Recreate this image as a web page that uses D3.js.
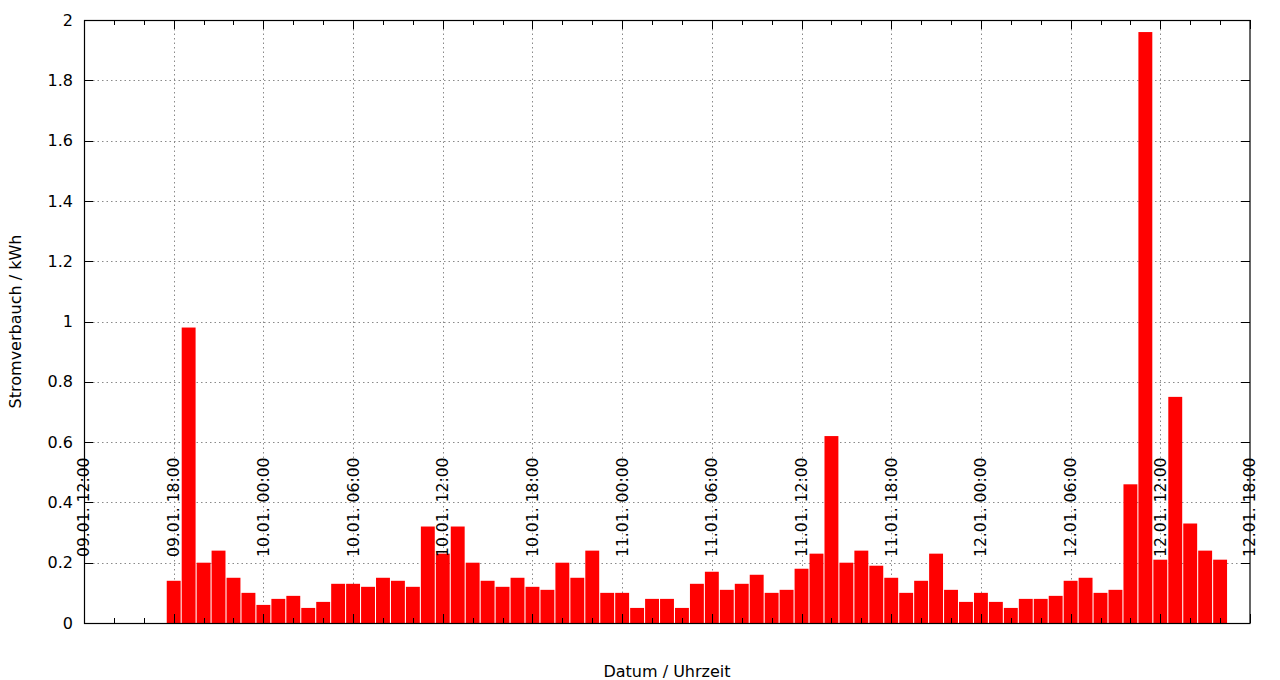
<!DOCTYPE html>
<html>
<head>
<meta charset="utf-8">
<script src="https://cdn.jsdelivr.net/npm/d3@7"></script>
<style>
  html, body { margin: 0; padding: 0; background: #fff; }
  svg { display: block; font-family: "DejaVu Sans", sans-serif; }
</style>
</head>
<body>
<svg id="chart" width="1280" height="680"></svg>
<script>
// ---- data ----
const domainStart = new Date(2020, 0, 9, 12, 0);
const domainEnd   = new Date(2020, 0, 12, 18, 0);
const firstBarTime = new Date(2020, 0, 9, 18, 0);
const consumption = [
  0.14, 0.98, 0.20, 0.24, 0.15, 0.10, 0.06, 0.08, 0.09, 0.05,
  0.07, 0.13, 0.13, 0.12, 0.15, 0.14, 0.12, 0.32, 0.23, 0.32,
  0.20, 0.14, 0.12, 0.15, 0.12, 0.11, 0.20, 0.15, 0.24, 0.10,
  0.10, 0.05, 0.08, 0.08, 0.05, 0.13, 0.17, 0.11, 0.13, 0.16,
  0.10, 0.11, 0.18, 0.23, 0.62, 0.20, 0.24, 0.19, 0.15, 0.10,
  0.14, 0.23, 0.11, 0.07, 0.10, 0.07, 0.05, 0.08, 0.08, 0.09,
  0.14, 0.15, 0.10, 0.11, 0.46, 1.96, 0.21, 0.75, 0.33, 0.24, 0.21
];
const yTicks = [0, 0.2, 0.4, 0.6, 0.8, 1, 1.2, 1.4, 1.6, 1.8, 2];
const xTickLabels = [
  "09.01. 12:00", "09.01. 18:00", "10.01. 00:00", "10.01. 06:00",
  "10.01. 12:00", "10.01. 18:00", "11.01. 00:00", "11.01. 06:00",
  "11.01. 12:00", "11.01. 18:00", "12.01. 00:00", "12.01. 06:00",
  "12.01. 12:00", "12.01. 18:00"
];
const yLabel = "Stromverbauch / kWh";
const xLabel = "Datum / Uhrzeit";

// ---- layout ----
const margin = { left: 84, right: 30, top: 20, bottom: 57 };
const W = 1280, H = 680;
const iw = W - margin.left - margin.right;
const ih = H - margin.top - margin.bottom;

const svg = d3.select("#chart");
const g = svg.append("g").attr("transform", `translate(${margin.left},${margin.top})`);

const x = d3.scaleTime().domain([domainStart, domainEnd]).range([0, iw]);
const y = d3.scaleLinear().domain([0, 2]).range([ih, 0]);

const data = consumption.map((v, i) => ({ t: d3.timeHour.offset(firstBarTime, i), v }));
const majorTicks = xTickLabels.map((lab, i) => ({ t: d3.timeHour.offset(domainStart, i * 6), lab }));
const minorTicks = d3.timeHour.every(2).range(domainStart, domainEnd).filter(t => t.getHours() % 6 !== 0);

const gridStyle = sel => sel.attr("stroke", "#8a8a8a").attr("stroke-width", 1).attr("stroke-dasharray", "1.5,3");

// grid
g.append("g").selectAll("line").data(yTicks.filter(v => v > 0 && v < 2)).join("line")
  .attr("x1", 0).attr("x2", iw)
  .attr("y1", d => Math.round(y(d)) + 0.5).attr("y2", d => Math.round(y(d)) + 0.5)
  .call(gridStyle);
g.append("g").selectAll("line").data(majorTicks.slice(1, -1)).join("line")
  .attr("x1", d => Math.round(x(d.t)) + 0.5).attr("x2", d => Math.round(x(d.t)) + 0.5)
  .attr("y1", 0).attr("y2", ih)
  .call(gridStyle);

// bars
const hourW = x(d3.timeHour.offset(domainStart, 1)) - x(domainStart);
const bw = hourW * 0.93;
g.append("g").selectAll("rect").data(data).join("rect")
  .attr("x", d => x(d.t) - bw / 2)
  .attr("width", bw)
  .attr("y", d => y(d.v))
  .attr("height", d => ih - y(d.v))
  .attr("fill", "#ff0000");

// ticks (inside, all four sides)
const tk = g.append("g").attr("stroke", "#000").attr("stroke-width", 1);
yTicks.forEach(v => {
  const yy = Math.round(y(v)) + 0.5;
  tk.append("line").attr("x1", 0).attr("x2", 9).attr("y1", yy).attr("y2", yy);
  tk.append("line").attr("x1", iw - 9).attr("x2", iw).attr("y1", yy).attr("y2", yy);
});
majorTicks.forEach(d => {
  const xx = Math.round(x(d.t)) + 0.5;
  tk.append("line").attr("x1", xx).attr("x2", xx).attr("y1", ih).attr("y2", ih - 9);
  tk.append("line").attr("x1", xx).attr("x2", xx).attr("y1", 0).attr("y2", 9);
});
minorTicks.forEach(t => {
  const xx = Math.round(x(t)) + 0.5;
  tk.append("line").attr("x1", xx).attr("x2", xx).attr("y1", ih).attr("y2", ih - 5);
  tk.append("line").attr("x1", xx).attr("x2", xx).attr("y1", 0).attr("y2", 5);
});

// border
g.append("rect").attr("x", 0.5).attr("y", 0.5).attr("width", iw - 0.5).attr("height", ih)
  .attr("fill", "none").attr("stroke", "#000").attr("stroke-width", 1.2);

// y tick labels
g.append("g").selectAll("text").data(yTicks).join("text")
  .attr("x", -11).attr("y", d => y(d))
  .attr("dy", "0.35em")
  .attr("text-anchor", "end")
  .attr("font-size", 16)
  .attr("fill", "#000")
  .text(d => d3.format("~g")(d));

// x tick labels (rotated, inside plot)
g.append("g").selectAll("text").data(majorTicks).join("text")
  .attr("transform", d => `translate(${x(d.t)},${ih - 66}) rotate(-90)`)
  .attr("dy", "0.35em")
  .attr("text-anchor", "start")
  .attr("font-size", 15.6)
  .attr("fill", "#000")
  .text(d => d.lab);

// axis titles
svg.append("text")
  .attr("transform", `translate(15,${margin.top + ih / 2}) rotate(-90)`)
  .attr("text-anchor", "middle").attr("dy", "0.35em")
  .attr("font-size", 16).attr("fill", "#000")
  .text(yLabel);
svg.append("text")
  .attr("x", margin.left + iw / 2).attr("y", 671)
  .attr("text-anchor", "middle").attr("dy", "0.35em")
  .attr("font-size", 16).attr("fill", "#000")
  .text(xLabel);
</script>
</body>
</html>
